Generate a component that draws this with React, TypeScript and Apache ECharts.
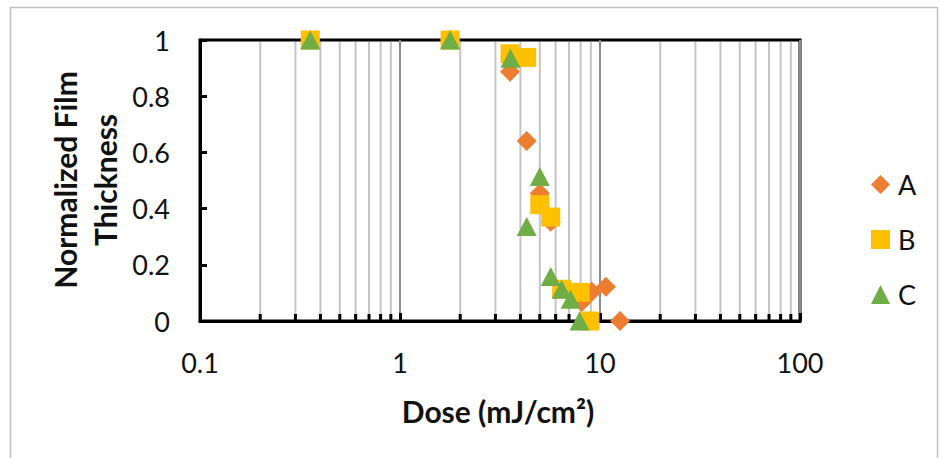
import React, { useEffect, useRef } from "react";
import * as echarts from "echarts";

const seriesNames = ["A", "B", "C"];
const doseA = [0.356, 1.78, 3.55, 4.3, 5.0, 5.67, 8.1, 9.1, 10.7, 12.6];
const thickA = [1, 1, 0.887, 0.641, 0.455, 0.353, 0.068, 0.104, 0.122, 0];
const doseB = [0.356, 1.78, 3.55, 4.3, 5.0, 5.67, 6.43, 7.94, 8.9];
const thickB = [1, 1, 0.951, 0.938, 0.414, 0.37, 0.113, 0.102, 0];
const doseC = [0.356, 1.78, 3.57, 4.3, 5.0, 5.67, 6.43, 7.13, 7.9];
const thickC = [1, 1, 0.935, 0.336, 0.514, 0.158, 0.113, 0.077, 0];
const minorDoses = [0.2, 0.3, 0.4, 0.5, 0.6, 0.7, 0.8, 0.9, 2, 3, 4, 5, 6, 7, 8, 9, 20, 30, 40, 50, 60, 70, 80, 90];

const FONT = "Lato";

export default function App() {
  const ref = useRef<HTMLDivElement>(null);
  useEffect(() => {
    if (!ref.current) return;
    const chart = echarts.init(ref.current, undefined, { renderer: "svg" });
    const pairs = (xs: number[], ys: number[]) => xs.map((x, i) => [x, ys[i]]);
    chart.setOption({
      animation: false,
      backgroundColor: "#ffffff",
      grid: {
        left: 200,
        top: 40,
        width: 600,
        height: 281,
        show: true,
        borderColor: "#000",
        borderWidth: 3,
        containLabel: false,
      },
      xAxis: {
        type: "log",
        logBase: 10,
        min: 0.1,
        max: 100,
        axisLine: { show: true, lineStyle: { color: "#000", width: 3 } },
        axisTick: { show: true, inside: true, length: 8, lineStyle: { color: "#000", width: 3 } },
        axisLabel: { fontFamily: FONT, fontSize: 27, color: "#111", margin: 28 },
        splitLine: { show: true, lineStyle: { color: "#8c8c8c", width: 2 } },
        minorTick: { show: false },
      },
      yAxis: {
        type: "value",
        min: 0,
        max: 1,
        interval: 0.2,
        axisLine: { show: true, lineStyle: { color: "#000", width: 3 } },
        axisTick: { show: true, inside: true, length: 7, lineStyle: { color: "#000", width: 3 } },
        axisLabel: { fontFamily: FONT, fontSize: 27, color: "#111", margin: 30 },
        splitLine: { show: false },
      },
      legend: {
        data: seriesNames,
        orient: "vertical",
        left: 866,
        top: 166,
        itemWidth: 19,
        itemHeight: 19,
        itemGap: 28,
        textStyle: { fontFamily: FONT, fontSize: 27, lineHeight: 27, color: "#111", padding: [0, 0, 0, 3] },
      },
      graphic: [
        {
          type: "rect",
          shape: { x: 10.5, y: 7.5, width: 927, height: 470 },
          style: { fill: "none", stroke: "#c0c0c0", lineWidth: 1.5 },
          silent: true,
          z: -1,
        },
        {
          type: "text",
          x: 85,
          y: 180,
          rotation: Math.PI / 2,
          style: {
            text: "Normalized Film\nThickness",
            fontFamily: FONT,
            fontWeight: "bold",
            fontSize: 30,
            lineHeight: 40,
            fill: "#111",
            align: "center",
            verticalAlign: "middle",
          },
        },
        {
          type: "text",
          x: 498,
          y: 411,
          style: {
            text: "Dose (mJ/cm²)",
            fontFamily: FONT,
            fontWeight: "bold",
            fontSize: 30,
            fill: "#111",
            align: "center",
            verticalAlign: "middle",
          },
        },
      ],
      series: [
        {
          type: "custom",
          name: "minor",
          silent: true,
          z: 1,
          data: minorDoses.map((d) => [d, 0]),
          renderItem: (params: any, api: any) => {
            const v = api.value(0);
            const p0 = api.coord([v, 0]);
            const p1 = api.coord([v, 1]);
            return {
              type: "group",
              children: [
                {
                  type: "line",
                  shape: { x1: p0[0], y1: p0[1] - 2, x2: p1[0], y2: p1[1] + 2 },
                  style: { stroke: "#c4c4c4", lineWidth: 2 },
                },
                {
                  type: "line",
                  shape: { x1: p0[0], y1: p0[1], x2: p0[0], y2: p0[1] - 7 },
                  style: { stroke: "#000", lineWidth: 3 },
                },
              ],
            };
          },
        },
        {
          type: "scatter",
          name: "A",
          symbol: "diamond",
          symbolSize: 20,
          itemStyle: { color: "#ED7D31", opacity: 1 },
          data: pairs(doseA, thickA),
          z: 3,
        },
        {
          type: "scatter",
          name: "B",
          symbol: "rect",
          symbolSize: 19,
          itemStyle: { color: "#FFC000", opacity: 1 },
          data: pairs(doseB, thickB),
          z: 4,
        },
        {
          type: "scatter",
          name: "C",
          symbol: "triangle",
          symbolSize: [20, 19],
          itemStyle: { color: "#70AD47", opacity: 1 },
          data: pairs(doseC, thickC),
          z: 5,
        },
      ],
    });
    return () => chart.dispose();
  }, []);
  return (
    <div
      ref={ref}
      style={{ position: "fixed", left: 0, top: 0, width: 941, height: 458, background: "#fff" }}
    />
  );
}
